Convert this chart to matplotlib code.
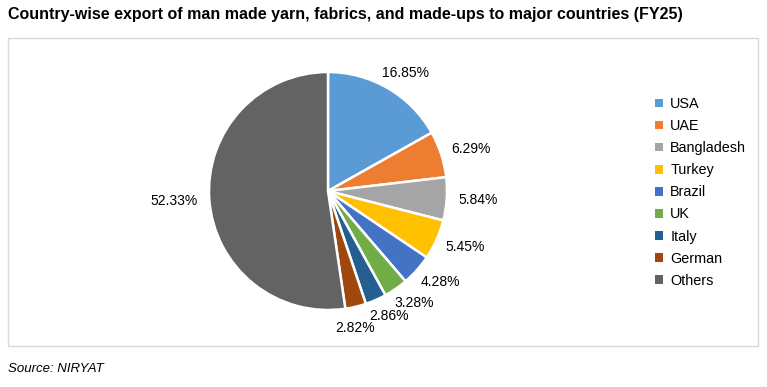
import matplotlib
matplotlib.use("Agg")
import numpy as np
import matplotlib.pyplot as plt
from matplotlib.patches import Rectangle, Patch

plt.rcParams['font.family'] = ['Liberation Sans', 'DejaVu Sans']

countries = ["USA", "UAE", "Bangladesh", "Turkey", "Brazil", "UK", "Italy", "German", "Others"]
shares = [16.85, 6.29, 5.84, 5.45, 4.28, 3.28, 2.86, 2.82, 52.33]
colors = ["#5B9BD5", "#ED7D31", "#A5A5A5", "#FFC000", "#4472C4",
          "#70AD47", "#255E91", "#9E480E", "#636363"]
title = "Country-wise export of man made yarn, fabrics, and made-ups to major countries (FY25)"
source = "Source: NIRYAT"

W, H = 767, 387
fig = plt.figure(figsize=(W / 100, H / 100), dpi=100)

# Chart box
fig.patches.append(Rectangle((8 / W, 1 - 346 / H), 750 / W, 308 / H,
                             transform=fig.transFigure, fill=False,
                             edgecolor="#D9D9D9", linewidth=1.0))

# Pie axes: center (328,191) px, radius 119 px
R = 119
cx, cy = 328, 191
half = 1.5 * R
ax = fig.add_axes([(cx - half) / W, 1 - (cy + half) / H, 2 * half / W, 2 * half / H])
wedges, _ = ax.pie(shares, colors=colors, startangle=90, counterclock=False,
                   wedgeprops=dict(edgecolor="white", linewidth=1.8))
ax.set_xlim(-1.5, 1.5)
ax.set_ylim(-1.5, 1.5)
ax.set_aspect("equal")
ax.axis("off")

# Data labels outside the pie, pushed out by their own box size (Excel-like)
renderer = fig.canvas.get_renderer()
unit = R  # pixels per data unit
r0 = 1.10
placed = []
for w, v in zip(wedges, shares):
    ang = np.deg2rad((w.theta1 + w.theta2) / 2)
    dx, dy = np.cos(ang), np.sin(ang)
    t = ax.text(0, 0, f"{v:.2f}%", fontsize=10, ha="center", va="center")
    bb = t.get_window_extent(renderer)
    tw, th = bb.width / unit, (bb.height * 0.85) / unit
    x = r0 * dx + dx * tw / 2
    y = r0 * dy + dy * th / 2
    # simple collision avoidance: push down below previous label
    for (px, py, pw, ph) in placed:
        if abs(x - px) < (tw + pw) / 2 and abs(y - py) < (th + ph) / 2:
            y = py - (th + ph) / 2
            x = x - 0.07
    t.set_position((x, y))
    placed.append((x, y, tw, th))

# Legend
handles = [Patch(facecolor=c, edgecolor="none") for c in colors]
fig.legend(handles, countries, loc="upper left",
           bbox_to_anchor=(655 / W, 1 - 97 / H), frameon=False,
           fontsize=10.4, handlelength=0.55, handleheight=0.55,
           handletextpad=0.5, labelspacing=0.56, borderpad=0, borderaxespad=0)

fig.text(8 / W, 1 - 15 / H, title, fontsize=11.5, fontweight="bold",
         ha="left", va="center")
fig.text(8 / W, 1 - 369 / H, source, fontsize=9.5, fontstyle="italic",
         ha="left", va="center")

fig.savefig("out.png", dpi=100)
